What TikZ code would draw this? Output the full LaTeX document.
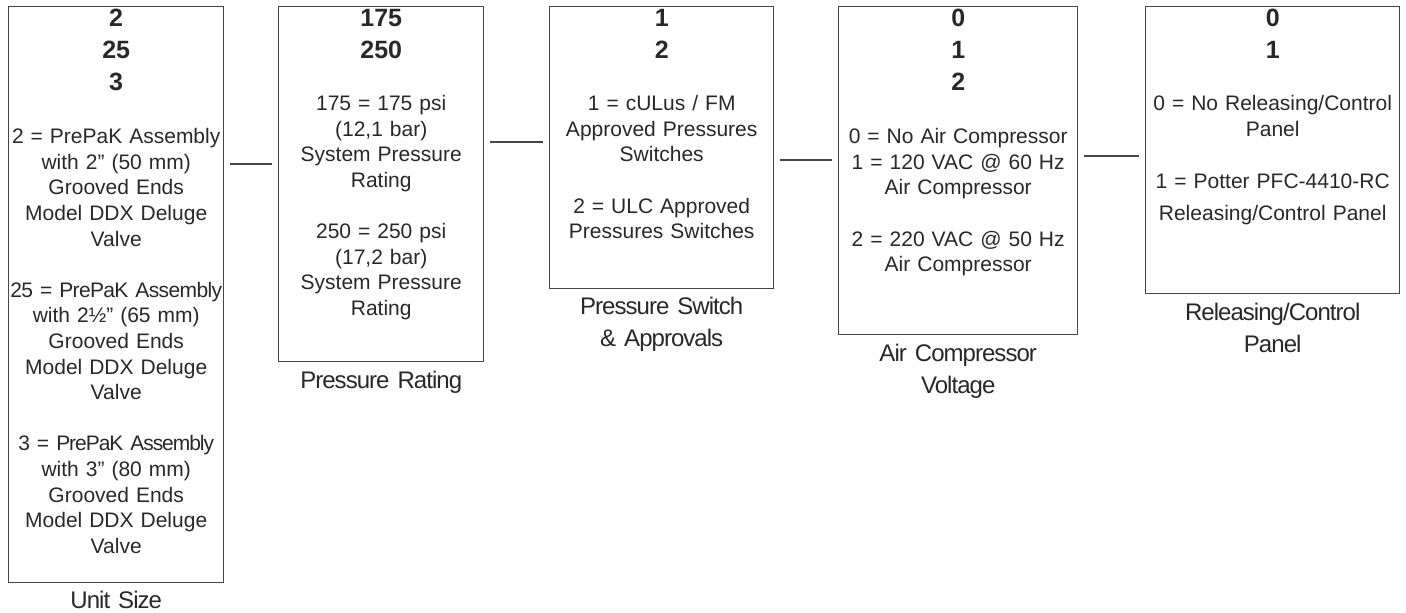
\documentclass[tikz,border=0pt]{standalone}
\usepackage{fontspec}
\setmainfont{Liberation Sans}
\newfontfamily\capfont[LetterSpace=-4,WordSpace=0.8]{Liberation Sans}
\usepackage{tikz}
\usetikzlibrary{positioning}
\usepackage{xcolor}
\definecolor{OptLine}{RGB}{70,70,70}
\definecolor{OptText}{RGB}{40,40,40}

\begin{document}
\begin{tikzpicture}[x=0.5pt,y=-0.5pt,
  obox/.style={draw=OptLine,line width=0.7pt,anchor=north west,inner sep=0pt},
  codes/.style={inner sep=0pt,text width=120pt,align=center,text=OptText,
                font=\fontsize{12.5}{16}\selectfont\bfseries},
  desc/.style={inner sep=0pt,text width=140pt,align=center,text=OptText,
               font=\fontsize{10.5}{12.8}\selectfont},
  title/.style={inner sep=0pt,text width=140pt,align=center,text=OptText,
              font=\capfont\fontsize{12}{16}\selectfont},
  link/.style={draw=OptLine,line width=0.7pt,shorten <=3pt,shorten >=3pt},
]
\useasboundingbox (0,0) rectangle (1406,613);
\node[obox,minimum width=107.5pt,minimum height=288pt] (unit) at (8,6) {};
\node[obox,minimum width=102.5pt,minimum height=177.5pt] (press) at (278,6) {};
\node[obox,minimum width=112pt,minimum height=141pt] (switch) at (549,6) {};
\node[obox,minimum width=119.5pt,minimum height=164pt] (comp) at (838,6) {};
\node[obox,minimum width=127pt,minimum height=143.5pt] (panel) at (1145,6) {};
\node[codes,below=1.5pt of unit.north] (unitNum) {2\\25\\3};
\node[codes,below=1.5pt of press.north] (pressNum) {175\\250};
\node[codes,below=1.5pt of switch.north] (switchNum) {1\\2};
\node[codes,below=1.5pt of comp.north] (compNum) {0\\1\\2};
\node[codes,below=1.5pt of panel.north] (panelNum) {0\\1};
\node[desc,below=61pt of unit.north] (unitTxt) {2 = PrePaK Assembly\\with 2” (50 mm)\\Grooved Ends\\Model DDX Deluge\\Valve\\[12.8pt]{\addfontfeature{LetterSpace=-3}25 = PrePaK Assembly}\\with 2½” (65 mm)\\Grooved Ends\\Model DDX Deluge\\Valve\\[12.8pt]{\addfontfeature{LetterSpace=-5}3 = PrePaK Assembly}\\with 3” (80 mm)\\Grooved Ends\\Model DDX Deluge\\Valve};
\node[desc,below=44.5pt of press.north] (pressTxt) {175 = 175 psi\\(12,1 bar)\\System Pressure\\Rating\\[12.8pt]250 = 250 psi\\(17,2 bar)\\System Pressure\\Rating};
\node[desc,below=44.5pt of switch.north] (switchTxt) {1 = cULus / FM\\Approved Pressures\\Switches\\[12.8pt]2 = ULC Approved\\Pressures Switches};
\node[desc,below=61pt of comp.north] (compTxt) {0 = No Air Compressor\\1 = 120 VAC @ 60 Hz\\Air Compressor\\[12.8pt]2 = 220 VAC @ 50 Hz\\Air Compressor};
\node[desc,below=44.5pt of panel.north] (panelTxt) {0 = No Releasing/Control\\Panel\\[13.2pt]1 = Potter PFC-4410-RC\\[3.2pt]Releasing/Control Panel};
\node[title,below=3.5pt of unit] (unitCap) {Unit Size};
\node[title,below=4pt of press] (pressCap) {Pressure Rating};
\node[title,below=3.5pt of switch] (switchCap) {Pressure Switch\\\& Approvals};
\node[title,below=4pt of comp] (compCap) {Air Compressor\\Voltage};
\node[title,below=4pt of panel] (panelCap) {Releasing/Control\\Panel};
\draw[link] ([yshift=-79pt]unit.north east) -- ([yshift=-79pt]press.north west);
\draw[link] ([yshift=-68pt]press.north east) -- ([yshift=-68pt]switch.north west);
\draw[link] ([yshift=-77pt]switch.north east) -- ([yshift=-77pt]comp.north west);
\draw[link] ([yshift=-75pt]comp.north east) -- ([yshift=-75pt]panel.north west);
\end{tikzpicture}
\end{document}
